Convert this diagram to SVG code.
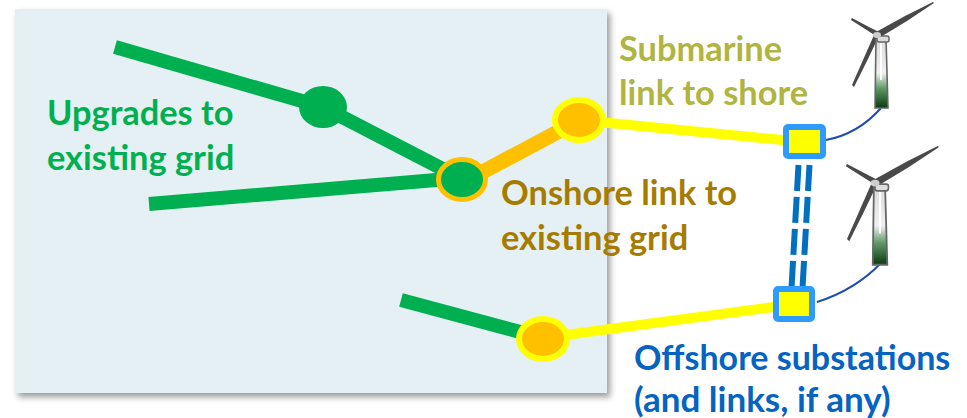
<svg xmlns="http://www.w3.org/2000/svg" width="967" height="418" viewBox="0 0 967 418">
<style>
text{font-family:Lato,"Open Sans","Liberation Sans",sans-serif;font-weight:700;font-size:34.4px}
.b{font-size:34px}
.b2{font-size:35px}
.g{stroke:#00b050;stroke-width:14;fill:none}
.o{stroke:#ffc000;stroke-width:15;fill:none}
.y{stroke:#ffff00;stroke-width:10;fill:none}
.d{stroke:#0070c0;stroke-width:6;fill:none;stroke-dasharray:26 6}
.c{stroke:#1f4eb0;stroke-width:2;fill:none}
.s{fill:#ffff00;stroke:#2f9bff;stroke-width:6}
.blade{fill:#4a4a4a;filter:url(#soft)}
</style>
<defs>
<linearGradient id="tower" x1="0" y1="0" x2="0" y2="1">
<stop offset="0" stop-color="#dcdcdc"/><stop offset="0.5" stop-color="#f0f0f0"/><stop offset="0.72" stop-color="#5f9a66"/><stop offset="1" stop-color="#0b3a12"/>
</linearGradient>
<filter id="soft" x="-20%" y="-20%" width="140%" height="140%"><feGaussianBlur stdDeviation="0.7"/></filter>
<filter id="sh" x="-5%" y="-5%" width="110%" height="110%"><feDropShadow dx="3" dy="4" stdDeviation="3" flood-color="#000" flood-opacity="0.4"/></filter>
<g id="turbine">
<path class="blade" d="M-1 -3L28 -19L56 -33L57 -32L30 -14L2 3Z"/>
<path class="blade" d="M-1 1L-26 -15L-25 -17L-8 -8L2 -3Z"/>
<path class="blade" d="M-3 0L-25 50L-23 52L-10 26L1 3Z"/>
<path d="M-1 3L9 3L11 73L-2 73Z" fill="url(#tower)" stroke="#666" stroke-width="1.6" filter="url(#soft)"/>
<path d="M4 4L4.500 45" stroke="#ffffff" stroke-width="3" fill="none" filter="url(#soft)"/>
<rect x="0" y="1" width="12" height="6" rx="2" fill="#ddd" stroke="#666" stroke-width="1.500" filter="url(#soft)"/>
<ellipse cx="0" cy="0" rx="4" ry="3" fill="#ccc"/>
</g>
</defs>
<rect id="onshore-area" x="15" y="9" width="592" height="384" fill="#e4f0f3" filter="url(#sh)"/>
<g id="connectors">
<path class="g" d="M115 47L323 107L460 178"/>
<path class="g" d="M149 204L460 178"/>
<path class="g" d="M401 300L543 338"/>
<path class="o" d="M462 183L579 120.500"/>
<path class="y" d="M579 120L803 142"/>
<path class="y" d="M543 338L795 304"/>
<path class="d" d="M798.500 165L791.500 288"/>
<path class="d" d="M809.500 165L802.500 288"/>
<path class="c" d="M826 140Q858 134 881 108"/>
<path class="c" d="M817 302Q855 290 881 263"/>
</g>
<g id="node-grid"><ellipse cx="323" cy="107" rx="24" ry="21" fill="#00b050"/></g>
<g id="node-junction"><ellipse cx="462" cy="179.500" rx="23.500" ry="20" fill="#00b050" stroke="#ffc000" stroke-width="5"/></g>
<g id="node-landing-1"><ellipse cx="579" cy="120" rx="24" ry="20" fill="#ffc000" stroke="#ffff00" stroke-width="6"/></g>
<g id="node-landing-2"><ellipse cx="543" cy="339" rx="24" ry="20" fill="#ffc000" stroke="#ffff00" stroke-width="6"/></g>
<g id="substation-1"><rect x="786" y="127" width="37" height="29" rx="2" class="s"/></g>
<g id="substation-2"><rect x="776" y="289" width="36" height="30" rx="2" class="s"/></g>
<g id="turbine-1"><use href="#turbine" x="877" y="35"/></g>
<g id="turbine-2"><use href="#turbine" transform="translate(875 183) scale(1.12 1.12)"/></g>
<g id="labels">
<text x="47" y="125" fill="#00b050">Upgrades to</text>
<text x="47" y="170" fill="#00b050">existing grid</text>
<text x="619" y="61" fill="#afb53f">Submarine</text>
<text x="619" y="105" fill="#afb53f">link to shore</text>
<text x="501" y="205" fill="#a67c00">Onshore link to</text>
<text x="501" y="250" fill="#a67c00">existing grid</text>
<text x="634" y="370" class="b" fill="#0563c1">Offshore substations</text>
<text x="634" y="412" class="b2" fill="#0563c1">(and links, if any)</text>
</g>
</svg>
